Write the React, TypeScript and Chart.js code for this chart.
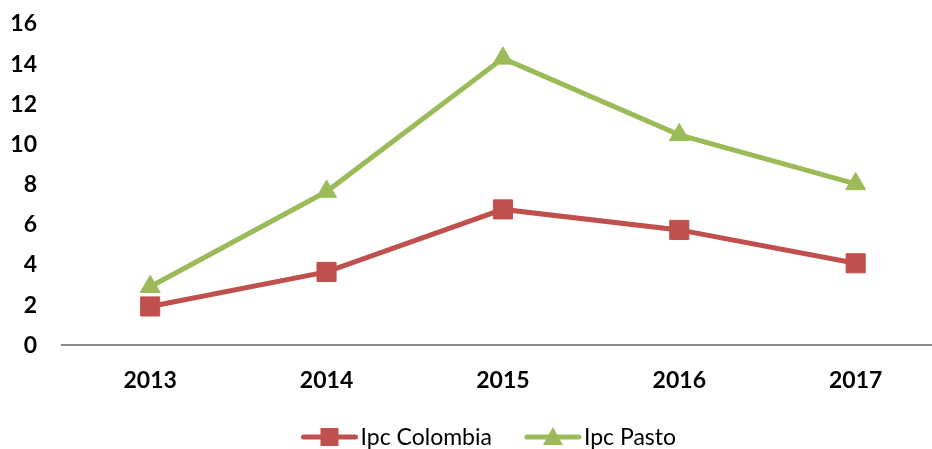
import React, { useEffect, useRef } from "react";
import { Chart, registerables } from "chart.js";

Chart.register(...registerables);

const years = [2013, 2014, 2015, 2016, 2017];
const ipcColombia = [1.94, 3.66, 6.77, 5.75, 4.09];
const ipcPasto = [2.92, 7.66, 14.29, 10.48, 8.04];
const yTicks = [0, 2, 4, 6, 8, 10, 12, 14, 16];

const RED = "#C0504D";
const GREEN = "#9BBB59";
const FONT = "Lato, 'Open Sans', sans-serif";

const legendPlugin = {
  id: "customLegend",
  afterDraw(chart: any) {
    const ctx = chart.ctx;
    const area = chart.chartArea;
    const items = chart.data.datasets.map((d: any) => ({
      label: d.label,
      color: d.borderColor,
      style: d.pointStyle,
    }));
    ctx.save();
    ctx.font = `23px ${FONT}`;
    const markW = 56;
    const gapText = 3;
    const gapItem = 33;
    const widths = items.map((it: any) => markW + gapText + ctx.measureText(it.label).width);
    const total = widths.reduce((a: number, b: number) => a + b, 0) + gapItem * (items.length - 1);
    let x = (area.left + area.right) / 2 - total / 2 - 8;
    const y = 437;
    items.forEach((it: any, i: number) => {
      ctx.strokeStyle = it.color;
      ctx.lineWidth = 5;
      ctx.lineCap = "round";
      ctx.beginPath();
      ctx.moveTo(x + 2, y);
      ctx.lineTo(x + markW - 2, y);
      ctx.stroke();
      ctx.fillStyle = it.color;
      const cx = x + markW / 2;
      if (it.style === "rect") {
        ctx.fillRect(cx - 9, y - 9, 18, 18);
      } else {
        ctx.beginPath();
        ctx.moveTo(cx, y - 10);
        ctx.lineTo(cx + 10, y + 8);
        ctx.lineTo(cx - 10, y + 8);
        ctx.closePath();
        ctx.fill();
      }
      ctx.fillStyle = "#000";
      ctx.textBaseline = "middle";
      ctx.textAlign = "left";
      ctx.fillText(it.label, x + markW + gapText, y + 1);
      x += widths[i] + gapItem;
    });
    ctx.restore();
  },
};

export default function App() {
  const ref = useRef<HTMLCanvasElement>(null);
  useEffect(() => {
    document.body.style.margin = "0";
    const chart = new Chart(ref.current!, {
      type: "line",
      data: {
        datasets: [
          {
            label: "Ipc Colombia",
            data: years.map((x, i) => ({ x, y: ipcColombia[i] })),
            borderColor: RED,
            backgroundColor: RED,
            borderWidth: 5,
            pointStyle: "rect",
            pointRadius: 13.5,
            pointBorderWidth: 1,
            pointBorderColor: RED,
            pointBackgroundColor: RED,
          },
          {
            label: "Ipc Pasto",
            data: years.map((x, i) => ({ x, y: ipcPasto[i] })),
            borderColor: GREEN,
            backgroundColor: GREEN,
            borderWidth: 5,
            pointStyle: "triangle",
            pointRadius: 11.5,
            pointBorderWidth: 1,
            pointBorderColor: GREEN,
            pointBackgroundColor: GREEN,
          },
        ],
      },
      options: {
        animation: false,
        responsive: false,
        maintainAspectRatio: false,
        layout: { padding: { top: 24, right: 0, bottom: 34, left: 0 } },
        plugins: { legend: { display: false }, tooltip: { enabled: false } },
        scales: {
          x: {
            type: "linear",
            min: years[0] - 0.5,
            max: years[years.length - 1] + 0.43,
            afterBuildTicks(scale: any) {
              scale.ticks = years.map((v) => ({ value: v }));
            },
            grid: { display: false, drawTicks: false },
            border: { display: true, color: "#898989", width: 2 },
            ticks: {
              padding: 21,
              color: "#000",
              font: { family: FONT, size: 23, weight: "bold" },
              callback: (v: any) => String(v),
            },
          },
          y: {
            min: 0,
            max: 16,
            afterBuildTicks(scale: any) {
              scale.ticks = yTicks.map((v) => ({ value: v }));
            },
            afterFit(scale: any) {
              scale.width = 62;
              scale.paddingTop = 0;
              scale.paddingBottom = 0;
            },
            grid: { display: false, drawTicks: false },
            border: { display: false },
            ticks: {
              padding: 25,
              color: "#000",
              font: { family: FONT, size: 23, weight: "bold" },
            },
          },
        },
      },
      plugins: [legendPlugin],
    } as any);
    return () => chart.destroy();
  }, []);
  return (
    <div style={{ position: "absolute", left: 0, top: 0, width: 932, height: 449, overflow: "hidden" }}>
      <canvas ref={ref} width={946} height={449} style={{ width: 946, height: 449, display: "block" }} />
    </div>
  );
}
